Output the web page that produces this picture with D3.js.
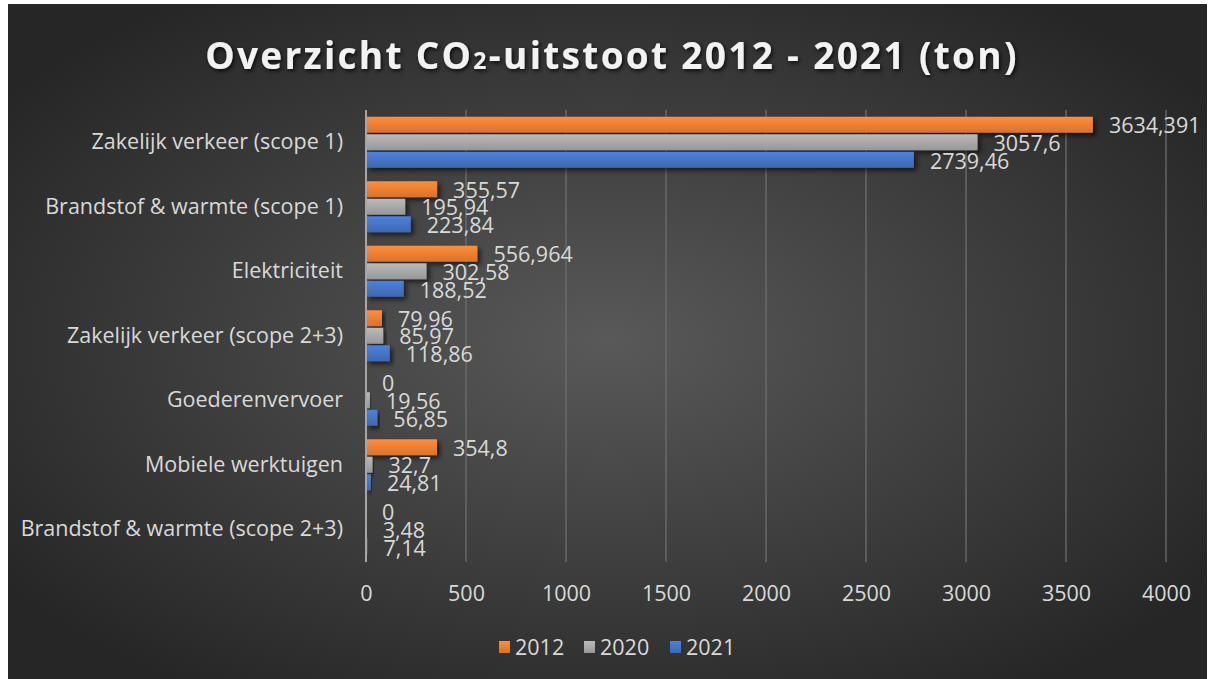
<!DOCTYPE html>
<html><head><meta charset="utf-8">
<script src="https://cdn.jsdelivr.net/npm/d3@7"></script>
<style>html,body{margin:0;padding:0;background:#fff;overflow:hidden}</style>
</head><body>
<svg id="chart" width="1215" height="679"></svg>
<script>
const categories = ["Zakelijk verkeer (scope 1)","Brandstof & warmte (scope 1)","Elektriciteit","Zakelijk verkeer (scope 2+3)","Goederenvervoer","Mobiele werktuigen","Brandstof & warmte (scope 2+3)"];
const seriesNames = ["2012","2020","2021"];
const values2012 = [3634.391,355.57,556.964,79.96,0,354.8,0];
const values2020 = [3057.6,195.94,302.58,85.97,19.56,32.7,3.48];
const values2021 = [2739.46,223.84,188.52,118.86,56.85,24.81,7.14];
const xTicks = [0,500,1000,1500,2000,2500,3000,3500,4000];
const colors = ["#ED7D31","#A5A5A5","#4472C4"];
const seriesValues = [values2012, values2020, values2021];

const svg = d3.select("#chart");
const font = "'Open Sans', 'Noto Sans', sans-serif";
const fs = 21.5;
const defs = svg.append("defs");
const rg = defs.append("radialGradient").attr("id","bg").attr("cx","50%").attr("cy","50%").attr("r","62%")
  .attr("gradientUnits","objectBoundingBox");
rg.append("stop").attr("offset","0%").attr("stop-color","#595959");
rg.append("stop").attr("offset","100%").attr("stop-color","#262626");
colors.forEach((c,i)=>{
  const lg = defs.append("linearGradient").attr("id","g"+i).attr("x1",0).attr("y1",0).attr("x2",0).attr("y2",1);
  lg.append("stop").attr("offset","0%").attr("stop-color",d3.color(c).brighter(0.35));
  lg.append("stop").attr("offset","100%").attr("stop-color",d3.color(c).darker(0.25));
});
const sh = defs.append("filter").attr("id","shadow").attr("x","-10%").attr("y","-50%").attr("width","130%").attr("height","250%");
sh.append("feDropShadow").attr("dx",3).attr("dy",3).attr("stdDeviation",2.5).attr("flood-color","#000").attr("flood-opacity",0.6);
const tsh = defs.append("filter").attr("id","tshadow").attr("x","-5%").attr("y","-30%").attr("width","110%").attr("height","160%");
tsh.append("feDropShadow").attr("dx",1.5).attr("dy",2).attr("stdDeviation",2).attr("flood-color","#000").attr("flood-opacity",0.8);

svg.append("rect").attr("x",8).attr("y",4).attr("width",1199).attr("height",675).attr("fill","url(#bg)");

// title
const title = svg.append("text").attr("x",612).attr("y",69).attr("text-anchor","middle")
  .attr("font-family",font).attr("font-weight","bold").attr("font-size",37).attr("letter-spacing",2.3)
  .attr("fill","#f2f2f2").attr("filter","url(#tshadow)");
title.append("tspan").text("Overzicht CO");
title.append("tspan").attr("font-size",23).text("2");
title.append("tspan").text("-uitstoot 2012 - 2021 (ton)");

const x = d3.scaleLinear().domain([0,4000]).range([366,1166]);
const y = d3.scaleBand().domain(categories).range([110,561.5]);
const inner = d3.scaleBand().domain(seriesNames).range([0,51]).paddingInner(0.09);

// gridlines
svg.append("g").selectAll("line").data(xTicks.slice(1)).join("line")
  .attr("x1",d=>x(d)).attr("x2",d=>x(d)).attr("y1",110).attr("y2",562)
  .attr("stroke","#6e6e6e").attr("stroke-width",1.3);

// bars
const groups = svg.append("g").selectAll("g").data(categories).join("g")
  .attr("transform",d=>`translate(0,${y(d)+ (y.bandwidth()-51)/2})`);
groups.each(function(cat,ci){
  const g = d3.select(this);
  seriesNames.forEach((s,si)=>{
    const v = seriesValues[si][ci];
    g.append("rect").attr("x",x(0)).attr("y",inner(s)).attr("width",x(v)-x(0)).attr("height",inner.bandwidth())
      .attr("fill",`url(#g${si})`).attr("filter","url(#shadow)");
  });
});
groups.each(function(cat,ci){
  const g = d3.select(this);
  seriesNames.forEach((s,si)=>{
    const v = seriesValues[si][ci];
    g.append("text").attr("x",x(v)+16).attr("y",inner(s)+inner.bandwidth()/2+1).attr("dy","0.36em")
      .attr("font-family",font).attr("font-size",fs).attr("fill","#d9d9d9")
      .text(String(v).replace(".",","));
  });
});

// y axis line
svg.append("line").attr("x1",x(0)).attr("x2",x(0)).attr("y1",110).attr("y2",562)
  .attr("stroke","#a6a6a6").attr("stroke-width",2);

// category labels
const yAxis = svg.append("g").attr("transform",`translate(${x(0)},0)`)
  .call(d3.axisLeft(y).tickSize(0).tickPadding(23));
yAxis.select(".domain").remove();
yAxis.selectAll("text").attr("font-family",font).attr("font-size",fs).attr("fill","#d9d9d9");

// x axis ticks
const xAxis = svg.append("g").attr("transform",`translate(0,578)`)
  .call(d3.axisBottom(x).tickValues(xTicks).tickSize(0).tickPadding(8).tickFormat(d=>String(d)));
xAxis.select(".domain").remove();
xAxis.selectAll("text").attr("font-family",font).attr("font-size",fs).attr("fill","#d9d9d9");

// legend
const legX = [499,584,670];
const leg = svg.append("g").selectAll("g").data(seriesNames).join("g")
  .attr("transform",(d,i)=>`translate(${legX[i]},641)`);
leg.append("rect").attr("width",11).attr("height",12).attr("fill",(d,i)=>`url(#g${i})`);
leg.append("text").attr("x",16).attr("y",6).attr("dy","0.36em").attr("font-family",font).attr("font-size",fs)
  .attr("fill","#d9d9d9").text(d=>d);
</script>
</body></html>
